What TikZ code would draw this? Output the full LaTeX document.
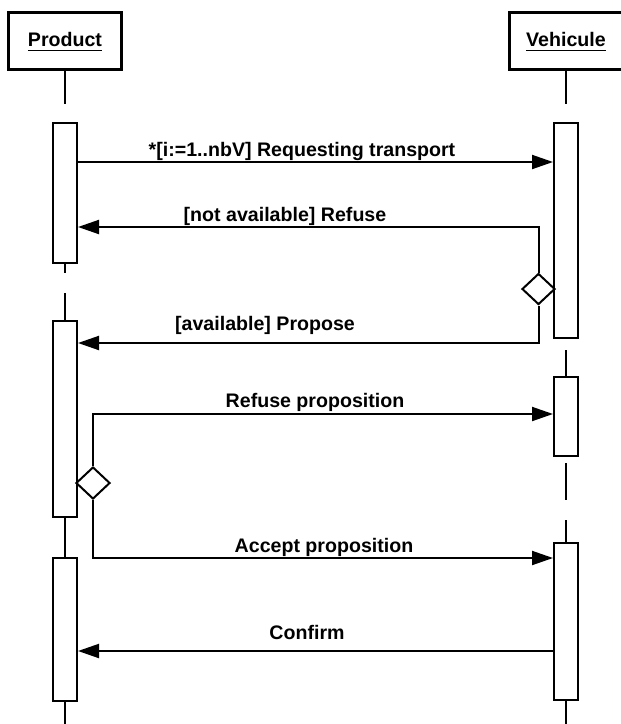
\documentclass[tikz,border=0pt]{standalone}
\usepackage{fontspec}
\setmainfont{Liberation Sans}
\usetikzlibrary{arrows.meta,shapes.geometric}
\begin{document}
\begin{tikzpicture}[x=1pt,y=-1pt,
  header/.style={draw,line width=3pt,inner sep=0pt},
  act/.style={draw,line width=2pt,fill=white,minimum width=24pt,inner sep=0pt},
  life/.style={line width=2pt},
  msg/.style={line width=2pt,-{Triangle[length=21pt,width=14pt]}},
  choice/.style={diamond,draw,line width=2pt,fill=white,inner sep=0pt,minimum width=34pt,minimum height=32pt},
  lbl/.style={anchor=base,inner sep=0pt,font=\fontsize{19.6}{22}\selectfont\bfseries},
  ul/.style={line width=1.6pt}
]
\useasboundingbox (0,0) rectangle (621,724);
% headers
\node[header,minimum width=113pt,minimum height=57pt] (ph) at (64.5,40.5) {};
\node[header,minimum width=118pt,minimum height=57pt] (vh) at (568,40.5) {};
\node[lbl] (pt) at (65,46) {Product};
\node[lbl] (vt) at (566,46) {Vehicule};
\draw[ul] (pt.base west |- 0,50.5) -- (pt.base east |- 0,50.5);
\draw[ul] (vt.base west |- 0,50.5) -- (vt.base east |- 0,50.5);
% activations
\node[act,minimum height=140pt] (p1) at (65,193) {};
\node[act,minimum height=196pt] (p2) at (65,419) {};
\node[act,minimum height=143pt] (p3) at (65,629.5) {};
\node[act,minimum height=215pt] (v1) at (566,230.5) {};
\node[act,minimum height=79pt] (v2) at (566,416.5) {};
\node[act,minimum height=157pt] (v3) at (566,621.5) {};
% lifeline coordinates
\coordinate (pa) at (65,104);
\coordinate (pb) at (65,273);
\coordinate (pc) at (65,293);
\coordinate (pd) at (65,724);
\coordinate (va) at (566,104);
\coordinate (vb) at (566,350);
\coordinate (vc) at (566,463);
\coordinate (vd) at (566,500);
\coordinate (ve) at (566,520);
\coordinate (vf) at (566,724);
\draw[life] (ph.south -| pa) -- (pa);
\draw[life] (p1.south) -- (pb);
\draw[life] (pc) -- (p2.north);
\draw[life] (p2.south) -- (p3.north);
\draw[life] (p3.south) -- (pd);
\draw[life] (vh.south -| va) -- (va);
\draw[life] (vb) -- (v2.north);
\draw[life] (vc) -- (vd);
\draw[life] (ve) -- (v3.north);
\draw[life] (v3.south) -- (vf);
% choices
\node[choice,minimum width=33pt,minimum height=31pt] (d1) at (538.5,289) {};
\node[choice] (d2) at (93,483) {};
% messages
\draw[msg] (p1.east |- 0,162) -- (v1.west |- 0,162);
\draw[msg] (d1.north) |- (p1.east |- 0,227);
\draw[msg] (d1.south) |- (p2.east |- 0,343);
\draw[msg] (d2.north) |- (v2.west |- 0,414);
\draw[msg] (d2.south) |- (v3.west |- 0,558);
\draw[msg] (v3.west |- 0,651) -- (p3.east |- 0,651);
% labels
\node[lbl] (l1) at (302,156) {*[i:=1..nbV] Requesting transport};
\node[lbl] (l2) at (285,221) {[not available] Refuse};
\node[lbl] (l3) at (265,330) {[available] Propose};
\node[lbl] (l4) at (315,407) {Refuse proposition};
\node[lbl] (l5) at (324,552) {Accept proposition};
\node[lbl] (l6) at (307,639) {Confirm};
\end{tikzpicture}
\end{document}
